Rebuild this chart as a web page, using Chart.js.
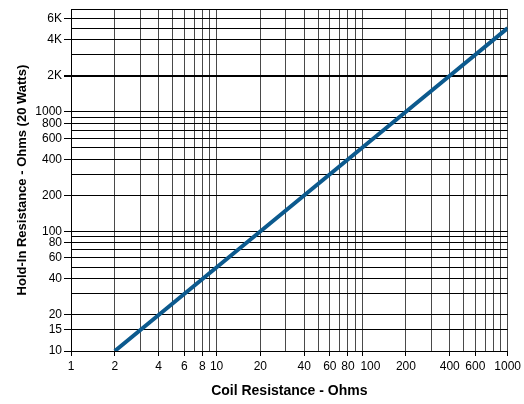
<!DOCTYPE html>
<html>
<head>
<meta charset="utf-8">
<script src="https://cdn.jsdelivr.net/npm/chart.js@4/dist/chart.umd.min.js"></script>
<style>
  body { margin: 0; background: #fff; }
</style>
</head>
<body>
<canvas id="holdInChart" width="524" height="404"></canvas>
<script>
// points (coil ohms -> hold-in ohms)
var coilOhms = [2, 4, 200, 400, 1000];
var holdInOhms = [10, 20, 1000, 2000, 5000];

// grid lines and which of them get a label
var xGrid = [1, 2, 3, 4, 5, 6, 7, 8, 9, 10, 20, 30, 40, 50, 60, 70, 80, 90, 100,
             200, 300, 400, 500, 600, 700, 800, 900, 1000];
var xLabels = [1, 2, 4, 6, 8, 10, 20, 40, 60, 80, 100, 200, 400, 600, 1000];
var yGrid = [10, 15, 20, 30, 40, 50, 60, 70, 80, 90, 100,
             200, 300, 400, 500, 600, 700, 800, 900, 1000,
             2000, 3000, 4000, 5000, 6000, 7200];
var yLabels = [10, 15, 20, 40, 60, 80, 100, 200, 400, 600, 800, 1000, 2000, 4000, 6000];

var fontFamily = '"Liberation Sans", Arial, sans-serif';

function yText(v) {
    if (v >= 2000) return (v / 1000) + 'K';
    return String(v);
}

var points = coilOhms.map(function(c, i) { return { x: c, y: holdInOhms[i] }; });

var ctx = document.getElementById('holdInChart').getContext('2d');

var chart = new Chart(ctx, {
    type: 'line',
    data: {
        datasets: [{
            data: points,
            borderColor: '#0c5a8e',
            borderWidth: 4,
            pointRadius: 0,
            fill: false,
            tension: 0
        }]
    },
    options: {
        responsive: false,
        animation: false,
        layout: { padding: { top: 8, right: 15, bottom: 0, left: 0 } },
        plugins: {
            legend: { display: false },
            tooltip: { enabled: false }
        },
        scales: {
            x: {
                type: 'logarithmic',
                min: 1,
                max: 1000,
                afterBuildTicks: function(axis) {
                    axis.ticks = xGrid.map(function(v) { return { value: v }; });
                },
                afterFit: function(axis) { axis.height = 53; },
                ticks: {
                    autoSkip: false,
                    maxRotation: 0,
                    padding: 3,
                    color: '#000',
                    font: { family: fontFamily, size: 12 },
                    callback: function(v) {
                        if (xLabels.indexOf(v) < 0) return '';
                        // the 100 label sits a little right of its line in the original
                        if (v === 100) return '\u00a0\u00a0\u00a0\u00a0\u00a0100';
                        return String(v);
                    }
                },
                grid: {
                    color: '#4a4a4a',
                    lineWidth: 1,
                    tickLength: 5,
                    tickColor: function(c) {
                        return c.tick && xLabels.indexOf(c.tick.value) >= 0 ? '#000' : 'rgba(0,0,0,0)';
                    }
                },
                border: { color: '#000', width: 1 },
                title: {
                    display: true,
                    text: 'Coil Resistance - Ohms',
                    color: '#000',
                    font: { family: fontFamily, size: 14, weight: 'bold' },
                    padding: { top: 0, bottom: 4 }
                }
            },
            y: {
                type: 'logarithmic',
                min: 10,
                max: 7200,
                afterBuildTicks: function(axis) {
                    axis.ticks = yGrid.map(function(v) { return { value: v }; });
                },
                afterFit: function(axis) { axis.width = 71; },
                ticks: {
                    autoSkip: false,
                    padding: 2,
                    color: '#000',
                    font: { family: fontFamily, size: 12 },
                    callback: function(v) {
                        return yLabels.indexOf(v) >= 0 ? yText(v) : '';
                    }
                },
                grid: {
                    color: '#000',
                    lineWidth: function(c) {
                        return c.tick && c.tick.value === 2000 ? 2 : 1;
                    },
                    tickLength: 7,
                    tickColor: function(c) {
                        return c.tick && yLabels.indexOf(c.tick.value) >= 0 ? '#000' : 'rgba(0,0,0,0)';
                    }
                },
                border: { color: '#000', width: 1 },
                title: {
                    display: true,
                    text: 'Hold-In Resistance - Ohms (20 Watts)',
                    color: '#000',
                    font: { family: fontFamily, size: 13, weight: 'bold' },
                    padding: { top: 15, bottom: 0 }
                }
            }
        }
    }
});
</script>
</body>
</html>
